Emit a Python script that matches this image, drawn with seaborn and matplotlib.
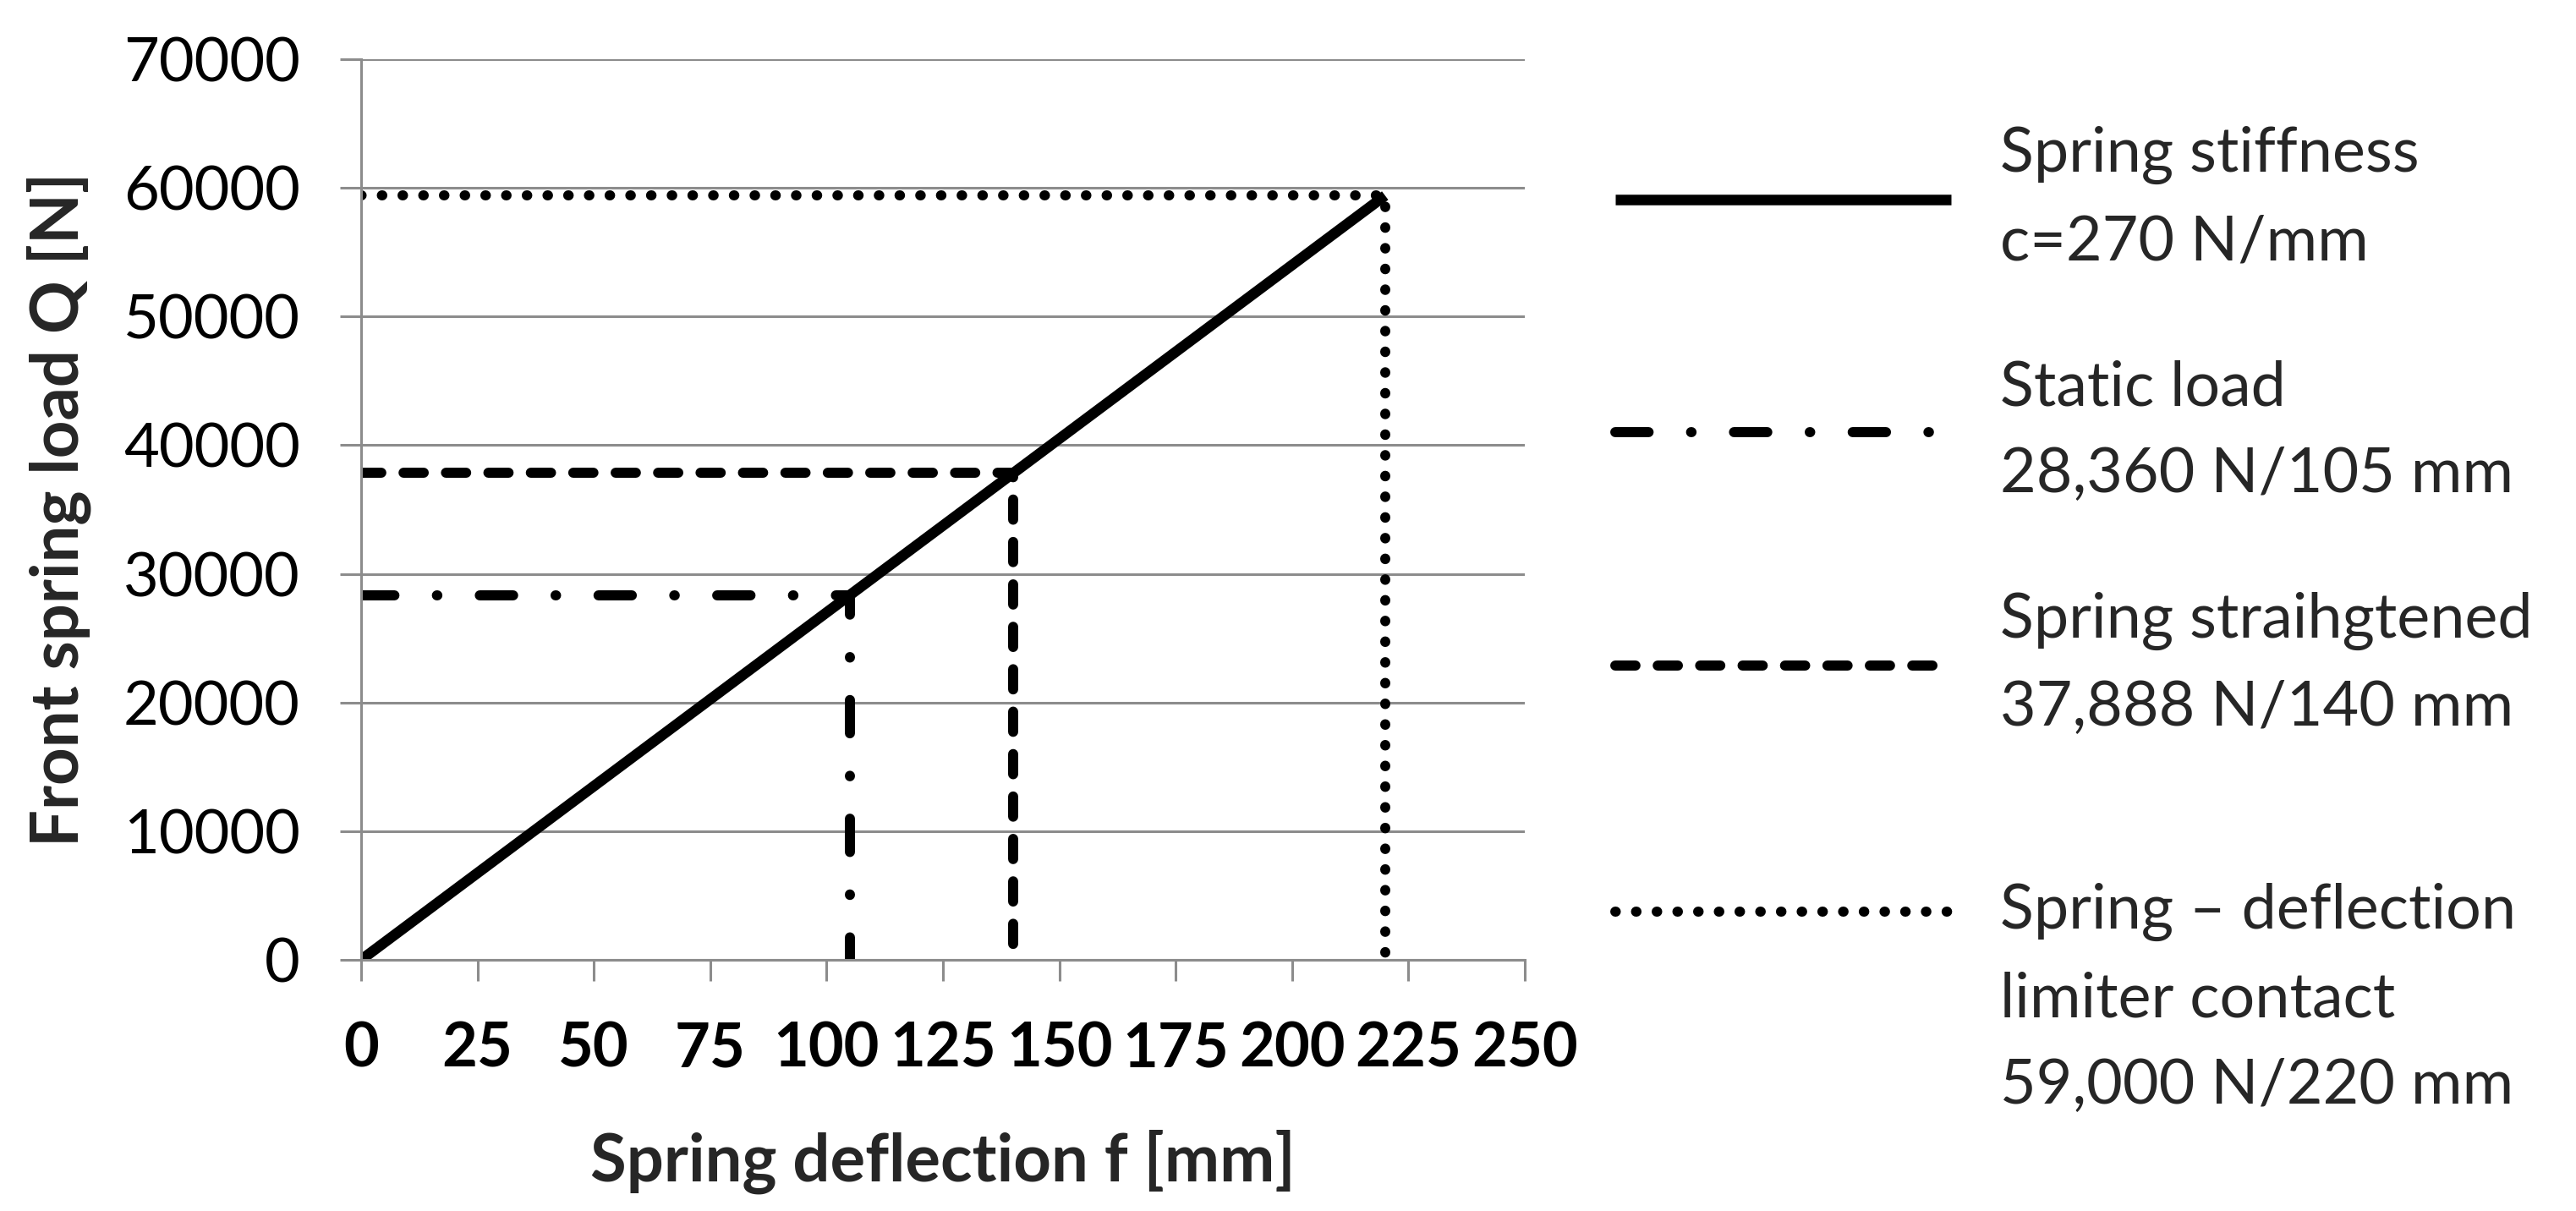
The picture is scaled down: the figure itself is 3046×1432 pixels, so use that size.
import numpy as np
import seaborn as sns
import matplotlib.pyplot as plt

# spring characteristic, c = 270 N/mm
STIFF_X = [0, 220]
STIFF_Y = [0, 59400]

# marker lines: from the load axis over to the point, then down to the deflection axis
STATIC_X = [0, 105, 105]
STATIC_Y = [28360, 28360, 0]
STRAIGHT_X = [0, 140, 140]
STRAIGHT_Y = [37888, 37888, 0]
LIMIT_X = [0, 220, 220]
LIMIT_Y = [59400, 59400, 0]

LABELS = [
    "Spring stiffness\nc=270 N/mm",
    "Static load\n28,360 N/105 mm",
    "Spring straihgtened\n37,888 N/140 mm",
    "Spring \u2013 deflection\nlimiter contact\n59,000 N/220 mm",
]
X_TICKS = [0, 25, 50, 75, 100, 125, 150, 175, 200, 225, 250]
Y_TICKS = [0, 10000, 20000, 30000, 40000, 50000, 60000, 70000]

GRID = "#8c8c8c"
TICK_FS = 26
LEG_FS = 26.5
LAB_FS = 28

sns.set_theme(style="white")
plt.rcParams['font.family'] = ['Lato', 'DejaVu Sans']

fig = plt.figure(figsize=(15.23, 7.16), dpi=200)
ax = fig.add_axes([0.1402, 0.2074, 0.4517, 0.7437])

common = dict(ax=ax, color="black", sort=False, estimator=None, legend=False)
sns.lineplot(x=STIFF_X, y=STIFF_Y, lw=4.5, solid_capstyle="butt",
             label=LABELS[0], **common)
sns.lineplot(x=STATIC_X, y=STATIC_Y, lw=4.3, linestyle=(0, (3.3, 4.2, 0.05, 4.2)),
             dash_capstyle="round", label=LABELS[1], **common)
sns.lineplot(x=STRAIGHT_X, y=STRAIGHT_Y, lw=4.3, linestyle=(0, (2.0, 2.2)),
             dash_capstyle="round", label=LABELS[2], **common)
sns.lineplot(x=LIMIT_X, y=LIMIT_Y, lw=4.3, linestyle=(0, (0.05, 2.0)),
             dash_capstyle="round", label=LABELS[3], **common)

ax.set_xlim(0, 250)
ax.set_ylim(0, 70000)
ax.set_xticks(X_TICKS, labels=[str(v) for v in X_TICKS], fontweight="bold")
ax.set_yticks(Y_TICKS, labels=[str(v) for v in Y_TICKS])
ax.set_axisbelow(True)
ax.yaxis.grid(True, color=GRID, lw=1.1)
ax.xaxis.grid(False)

for side in ["top", "right"]:
    ax.spines[side].set_visible(False)
for side in ["left", "bottom"]:
    ax.spines[side].set_color(GRID)
    ax.spines[side].set_linewidth(1.1)

ax.tick_params(axis="both", direction="out", length=9, width=1.1, color=GRID,
               labelsize=TICK_FS, labelcolor="black", bottom=True, left=True)
ax.tick_params(axis="y", pad=17)
ax.tick_params(axis="x", pad=17)

ax.set_xlabel("Spring deflection f [mm]", fontweight="bold", fontsize=LAB_FS)
ax.set_ylabel("Front spring load Q [N]", fontweight="bold", fontsize=LAB_FS)
ax.xaxis.set_label_coords(0.5, -0.188)
ax.yaxis.set_label_coords(-0.232, 0.5)

leg_kw = dict(loc="upper left", frameon=False, fontsize=LEG_FS,
              handlelength=5.4, handletextpad=0.79, labelspacing=1.42,
              borderpad=0, borderaxespad=0)

# first three entries
leg_a = fig.legend(handles=ax.lines[:3], labels=LABELS[:3],
                   bbox_to_anchor=(0.627, 0.896), **leg_kw)
# three-line entry on its own, line level with its first text row
leg_b = fig.legend(handles=ax.lines[3:], labels=LABELS[3:],
                   bbox_to_anchor=(0.627, 0.271), **leg_kw)
for leg in (leg_a, leg_b):
    for t in leg.get_texts():
        t.set_linespacing(1.66)

last = leg_b.get_lines()[0]
last.set_ydata(np.asarray(last.get_ydata()) + 37.5)

fig.savefig("out.png", dpi=200)
